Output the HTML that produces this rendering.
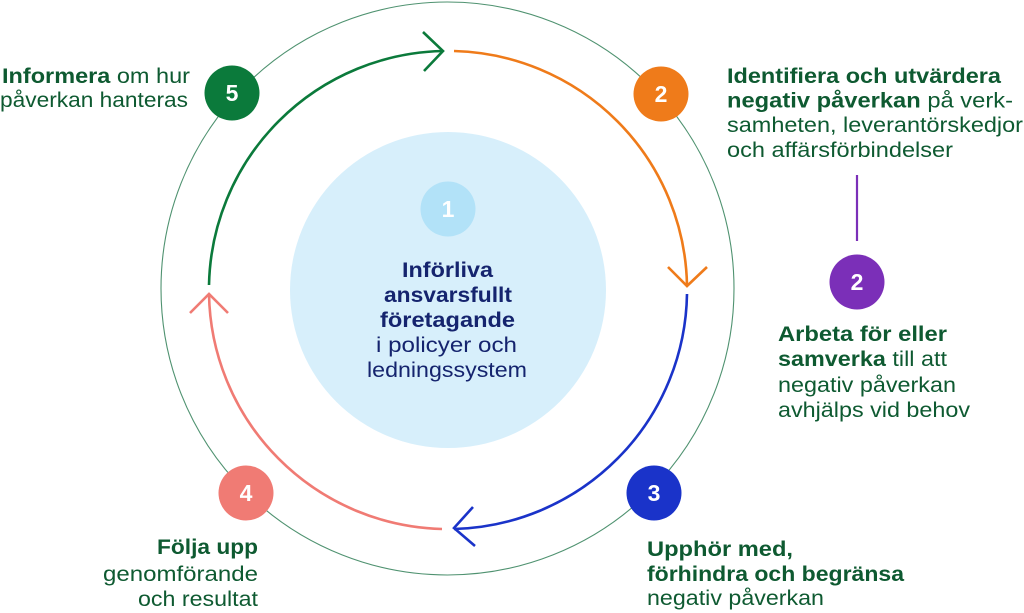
<!DOCTYPE html>
<html>
<head>
<meta charset="utf-8">
<style>
  html, body { margin: 0; padding: 0; background: #ffffff; }
  body { width: 1024px; height: 613px; overflow: hidden; }
  svg { display: block; }
  .b { font-family: "Liberation Sans", "DejaVu Sans", sans-serif; font-weight: 700; }
  .r { font-family: "Liberation Sans", "DejaVu Sans", sans-serif; font-weight: 400; }
  .g { fill: #0e5a31; }
  .n { fill: #15246e; }
  .num { font-family: "Liberation Sans", sans-serif; font-weight: 700; font-size: 23px; fill: #ffffff; text-anchor: middle; }
</style>
</head>
<body>
<svg width="1024" height="613" viewBox="0 0 1024 613" xmlns="http://www.w3.org/2000/svg">
  <!-- outer thin circle -->
  <circle cx="447.5" cy="288.5" r="286.5" fill="none" stroke="#4f9270" stroke-width="1.1"/>
  <!-- central light blue circle -->
  <circle cx="448" cy="290" r="158" fill="#d7effb"/>

  <!-- arcs -->
  <path d="M209,285 A239,239 0 0 1 443,51" fill="none" stroke="#0b7a3b" stroke-width="2.6"/>
  <path d="M454,51 A239,239 0 0 1 687,285" fill="none" stroke="#ef7b1a" stroke-width="2.6"/>
  <path d="M687,294 A239,239 0 0 1 454,529" fill="none" stroke="#1a33c9" stroke-width="2.6"/>
  <path d="M442,529 A239,239 0 0 1 209,294" fill="none" stroke="#f07b74" stroke-width="2.6"/>

  <!-- arrowheads -->
  <polyline points="423,32 443,51 424,71" fill="none" stroke="#0b7a3b" stroke-width="2.6"/>
  <polyline points="668,267 687,286 707,267" fill="none" stroke="#ef7b1a" stroke-width="2.6"/>
  <polyline points="473,507 454,528 475,546" fill="none" stroke="#1a33c9" stroke-width="2.6"/>
  <polyline points="190,313 209,294 228,313" fill="none" stroke="#f07b74" stroke-width="2.6"/>

  <!-- purple connector -->
  <line x1="857" y1="175" x2="857" y2="241" stroke="#7b2fb8" stroke-width="2.2"/>

  <!-- badges -->
  <circle cx="232" cy="93" r="27.5" fill="#0b7a3b"/>
  <text class="num" x="232" y="101">5</text>
  <circle cx="661" cy="94" r="27.5" fill="#ef7b1a"/>
  <text class="num" x="661" y="102">2</text>
  <circle cx="857" cy="282" r="27.5" fill="#7b2fb8"/>
  <text class="num" x="857" y="290">2</text>
  <circle cx="654" cy="493" r="27.5" fill="#1a33c9"/>
  <text class="num" x="654" y="501">3</text>
  <circle cx="246" cy="493" r="27.5" fill="#f07b74"/>
  <text class="num" x="246" y="501">4</text>
  <circle cx="448" cy="209" r="27.5" fill="#b2e2f8"/>
  <text class="num" x="448" y="217">1</text>

  <!-- block 5 -->
  <text x="2" y="83" font-size="21" textLength="188" lengthAdjust="spacingAndGlyphs" class="g"><tspan class="b">Informera</tspan><tspan class="r"> om hur</tspan></text>
  <text x="0" y="107" font-size="21" textLength="188" lengthAdjust="spacingAndGlyphs" class="r g">påverkan hanteras</text>

  <!-- block 2 orange -->
  <text x="727" y="83" font-size="21" textLength="274" lengthAdjust="spacingAndGlyphs" class="b g">Identifiera och utvärdera</text>
  <text x="727" y="107.5" font-size="21" textLength="286" lengthAdjust="spacingAndGlyphs" class="g"><tspan class="b">negativ påverkan</tspan><tspan class="r"> på verk-</tspan></text>
  <text x="727" y="132" font-size="21" textLength="296" lengthAdjust="spacingAndGlyphs" class="r g">samheten, leverantörskedjor</text>
  <text x="727" y="157" font-size="21" textLength="226" lengthAdjust="spacingAndGlyphs" class="r g">och affärsförbindelser</text>

  <!-- block 2 purple -->
  <text x="778" y="341" font-size="21" textLength="169" lengthAdjust="spacingAndGlyphs" class="b g">Arbeta för eller</text>
  <text x="778" y="366" font-size="21" textLength="169" lengthAdjust="spacingAndGlyphs" class="g"><tspan class="b">samverka</tspan><tspan class="r"> till att</tspan></text>
  <text x="778" y="392" font-size="21" textLength="178" lengthAdjust="spacingAndGlyphs" class="r g">negativ påverkan</text>
  <text x="778" y="417" font-size="21" textLength="192" lengthAdjust="spacingAndGlyphs" class="r g">avhjälps vid behov</text>

  <!-- block 3 -->
  <text x="647" y="556" font-size="21" textLength="146" lengthAdjust="spacingAndGlyphs" class="b g">Upphör med,</text>
  <text x="647" y="581" font-size="21" textLength="257" lengthAdjust="spacingAndGlyphs" class="b g">förhindra och begränsa</text>
  <text x="647" y="605" font-size="21" textLength="177" lengthAdjust="spacingAndGlyphs" class="r g">negativ påverkan</text>

  <!-- block 4 -->
  <text x="157" y="554" font-size="21" textLength="101" lengthAdjust="spacingAndGlyphs" class="b g">Följa upp</text>
  <text x="103" y="581" font-size="21" textLength="155" lengthAdjust="spacingAndGlyphs" class="r g">genomförande</text>
  <text x="138" y="606" font-size="21" textLength="120" lengthAdjust="spacingAndGlyphs" class="r g">och resultat</text>

  <!-- center block -->
  <text x="402" y="277" font-size="21" textLength="91" lengthAdjust="spacingAndGlyphs" class="b n">Införliva</text>
  <text x="384" y="302" font-size="21" textLength="128" lengthAdjust="spacingAndGlyphs" class="b n">ansvarsfullt</text>
  <text x="380" y="327" font-size="21" textLength="135" lengthAdjust="spacingAndGlyphs" class="b n">företagande</text>
  <text x="376" y="352" font-size="21" textLength="141" lengthAdjust="spacingAndGlyphs" class="r n">i policyer och</text>
  <text x="367" y="377" font-size="21" textLength="160" lengthAdjust="spacingAndGlyphs" class="r n">ledningssystem</text>
</svg>
</body>
</html>
